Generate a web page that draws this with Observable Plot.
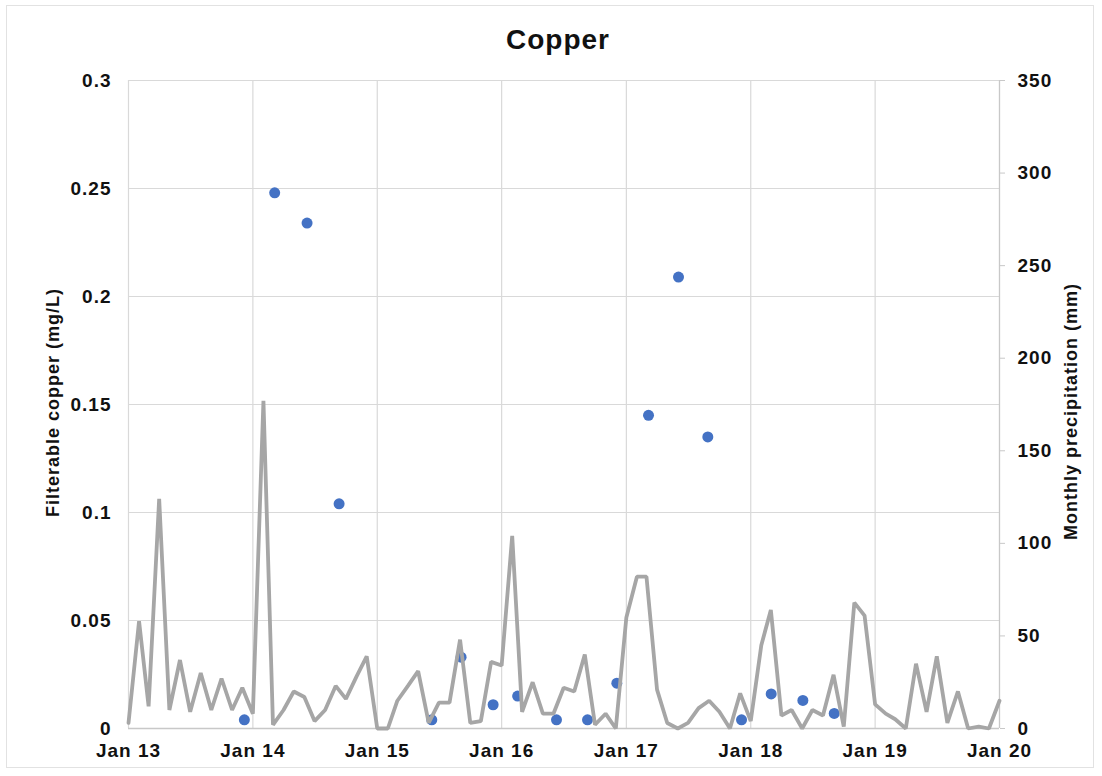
<!DOCTYPE html>
<html>
<head>
<meta charset="utf-8">
<script src="https://cdn.jsdelivr.net/npm/d3@7"></script>
<script src="https://cdn.jsdelivr.net/npm/@observablehq/plot@0.6"></script>
<style>
  html, body { margin: 0; padding: 0; background: #fff; }
  #wrap { position: relative; width: 1102px; height: 776px; overflow: hidden; font-family: "Liberation Sans", Arial, sans-serif; }
  #frame { position: absolute; left: 6px; top: 5px; width: 1088px; height: 763px; border: 1px solid #e2e2e2; box-sizing: border-box; }
  #title { position: absolute; left: 0; top: 0; width: 1102px; height: 62px; text-align: center; font-weight: bold; font-size: 28px; letter-spacing: 1px; line-height: 80px; color: #111; padding-left: 14px; box-sizing: border-box; }
  #chart { position: absolute; left: 0; top: 62px; }
</style>
</head>
<body>
<div id="wrap">
  <div id="frame"></div>
  <div id="title">Copper</div>
  <div id="chart"></div>
</div>
<script>
// Monthly precipitation (mm), Jan 2013 – Jan 2020
const precipStart = "2013-01-01";
const precipMm = [
  3, 58, 12, 124, 10, 37, 9, 30, 10, 27, 10, 22,      // 2013
  8, 177, 2, 10, 20, 17, 4, 10, 23, 16, 28, 39,       // 2014
  0, 0, 15, 23, 31, 3, 14, 14, 48, 3, 4, 36,          // 2015
  34, 104, 9, 25, 8, 8, 22, 20, 40, 2, 8, 0,          // 2016
  60, 82, 82, 21, 3, 0, 3, 11, 15, 9, 0, 19,          // 2017
  4, 45, 64, 7, 10, 0, 10, 7, 29, 1, 68, 61,          // 2018
  13, 8, 5, 0, 35, 9, 39, 3, 20, 0, 1, 0,             // 2019
  15                                                   // 2020
];

// Filterable copper samples (mg/L)
const sampleDates = [
  "2013-12-07", "2014-03-06", "2014-06-09", "2014-09-11",
  "2015-06-10", "2015-09-04", "2015-12-07", "2016-02-17",
  "2016-06-10", "2016-09-09", "2016-12-04", "2017-03-07",
  "2017-06-03", "2017-08-28", "2017-12-05", "2018-03-02",
  "2018-06-03", "2018-09-03"
];
const copperMg = [
  0.004, 0.248, 0.234, 0.104,
  0.004, 0.033, 0.011, 0.015,
  0.004, 0.004, 0.021, 0.145,
  0.209, 0.135, 0.004, 0.016,
  0.013, 0.007
];

// Axis ticks
const xTickDates = ["2013-01-01", "2014-01-01", "2015-01-01", "2016-01-01", "2017-01-01", "2018-01-01", "2019-01-01", "2020-01-01"];
const xTickLabels = ["Jan 13", "Jan 14", "Jan 15", "Jan 16", "Jan 17", "Jan 18", "Jan 19", "Jan 20"];
const leftTicks = [0, 0.05, 0.1, 0.15, 0.2, 0.25, 0.3];
const leftTickLabels = ["0", "0.05", "0.1", "0.15", "0.2", "0.25", "0.3"];
const rightTicks = [0, 50, 100, 150, 200, 250, 300, 350];
const rightTickLabels = ["0", "50", "100", "150", "200", "250", "300", "350"];

// Precipitation shares the copper y scale: 350 mm maps to 0.3 mg/L
const mmToMg = 0.3 / 350;

const months = d3.utcMonth.range(new Date(precipStart), d3.utcMonth.offset(new Date(precipStart), precipMm.length));
const precip = precipMm.map((mm, i) => ({date: months[i], mm}));
const copper = sampleDates.map((d, i) => ({date: new Date(d), mg: copperMg[i]}));

const xDates = xTickDates.map(d => new Date(d));
const xLabel = new Map(xDates.map((d, i) => [+d, xTickLabels[i]]));
const leftLabel = new Map(leftTicks.map((v, i) => [v, leftTickLabels[i]]));
const rightPos = rightTicks.map(v => v * mmToMg);
const rightLabel = new Map(rightPos.map((v, i) => [v, rightTickLabels[i]]));

const gridColor = "#d9d9d9";

const chart = Plot.plot({
  width: 1102,
  height: 714,
  marginTop: 18,
  marginBottom: 48,
  marginLeft: 128,
  marginRight: 103,
  style: {fontFamily: "'Liberation Sans', Arial, sans-serif", fontWeight: "bold", fontSize: "19px", letterSpacing: "1px", color: "#111", background: "transparent"},
  x: {type: "utc", domain: [xDates[0], xDates[xDates.length - 1]]},
  y: {domain: [0, 0.3]},
  marks: [
    Plot.gridY(leftTicks, {stroke: gridColor, strokeOpacity: 1, strokeWidth: 1.2}),
    Plot.gridX(xDates, {stroke: gridColor, strokeOpacity: 1, strokeWidth: 1.2}),
    Plot.ruleY([0], {stroke: "#c8c8c8", strokeWidth: 1.5}),
    Plot.ruleX([xDates[xDates.length - 1]], {stroke: "#c8c8c8", strokeWidth: 1.2}),
    Plot.axisY(leftTicks, {anchor: "left", tickSize: 0, tickPadding: 17, tickFormat: d => leftLabel.get(d), label: null, fill: "#111"}),
    Plot.axisY(rightPos, {anchor: "right", tickSize: 5, tickPadding: 13, stroke: "#c8c8c8", fill: "#111", tickFormat: d => rightLabel.get(d), label: null}),
    Plot.axisX(xDates, {anchor: "bottom", tickSize: 0, tickPadding: 15, tickFormat: d => xLabel.get(+d), label: null, fill: "#111"}),
    Plot.dot(copper, {x: "date", y: "mg", r: 5.5, fill: "#4472c4", stroke: null}),
    Plot.line(precip, {x: "date", y: d => d.mm * mmToMg, stroke: "#a6a6a6", strokeWidth: 3.8, strokeLinejoin: "miter"}),
    Plot.text(["Filterable copper (mg/L)"], {frameAnchor: "left", textAnchor: "middle", dx: -75, dy: -2, rotate: -90, fontSize: 18, fontWeight: "bold", fill: "#111"}),
    Plot.text(["Monthly precipitation (mm)"], {frameAnchor: "right", textAnchor: "middle", dx: 72, dy: 7, rotate: -90, fontSize: 18, fontWeight: "bold", fill: "#111"})
  ]
});

document.getElementById("chart").appendChild(chart);
</script>
</body>
</html>
